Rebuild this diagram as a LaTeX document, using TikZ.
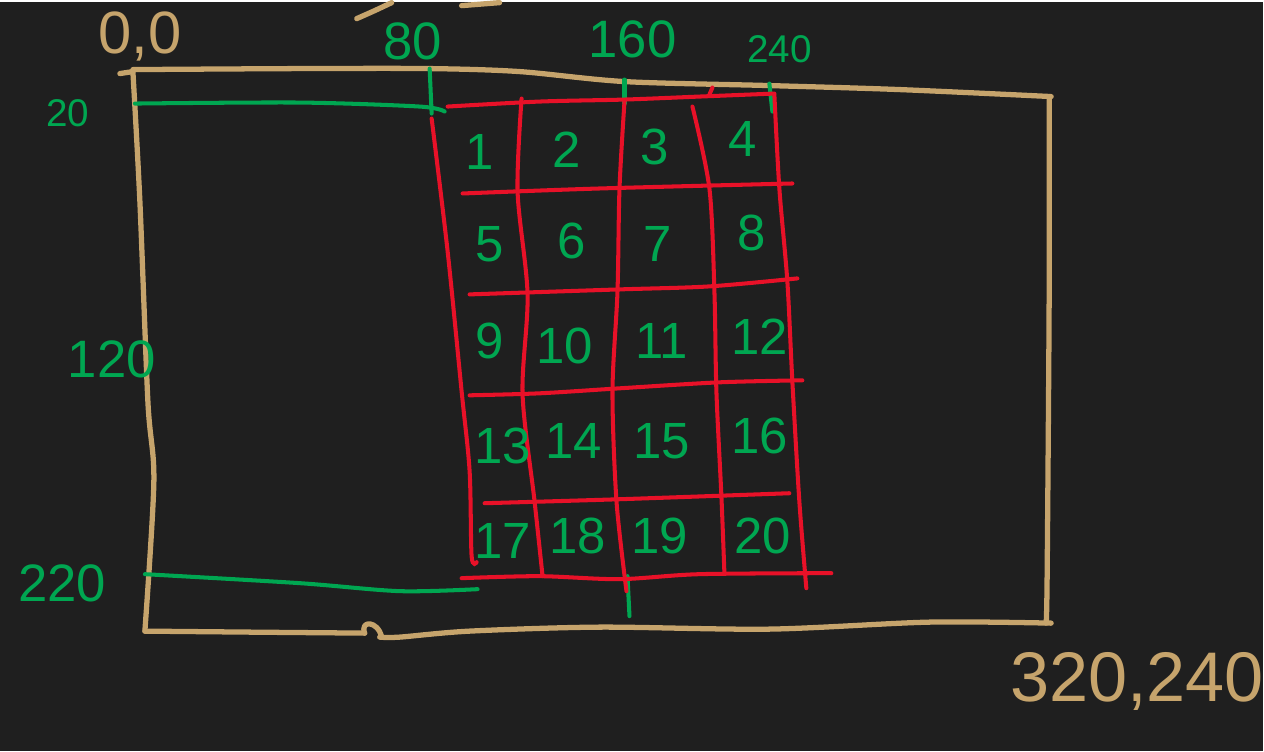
\documentclass[tikz,border=0pt]{standalone}
\usepackage{fontspec}
\setmainfont{Liberation Sans}
\usetikzlibrary{positioning}
\definecolor{bgdark}{RGB}{31,31,31}
\definecolor{pentan}{RGB}{198,164,108}
\definecolor{pengreen}{RGB}{0,166,81}
\definecolor{penred}{RGB}{232,17,40}
\tikzset{tanline/.style={draw=pentan, line width=3pt, line cap=round, line join=round}}
\tikzset{greenline/.style={draw=pengreen, line width=2.3pt, line cap=round}}
\tikzset{redline/.style={draw=penred, line width=2.3pt, line cap=round}}
\tikzset{cellnum/.style={text=pengreen, inner sep=0pt, font=\fontsize{29}{31}\selectfont}}
\tikzset{ticklabel/.style={text=pengreen, inner sep=0pt, font=\fontsize{30}{32}\selectfont}}
\tikzset{cornerlabel/.style={text=pentan, inner sep=0pt, font=\fontsize{34}{36}\selectfont}}

\begin{document}
\begin{tikzpicture}[x=0.2mm, y=-0.2mm]
      \fill[bgdark] (0, 0) rectangle (1264, 750); % page
      % screen outline
      \draw[tanline] plot[smooth] coordinates {(133, 68) (300, 67) (430, 67) (520, 70) (625, 80) (770, 84) (900, 88) (1052, 95)};
      \draw[tanline] plot[smooth] coordinates {(1050, 95) (1050, 300) (1048, 575) (1047, 622)};
      \draw[tanline] plot[smooth] coordinates {(1052, 622) (930, 621) (770, 628) (600, 626) (470, 630) (400, 636) (380, 636)};
      \draw[tanline] plot[smooth] coordinates {(145, 630) (250, 631) (365, 632)};
      \draw[tanline] (365, 632) .. controls (360, 619) and (378, 619) .. (382, 636);
      \draw[tanline] plot[smooth] coordinates {(133, 70) (140, 200) (148, 400) (154, 480) (145, 630)};
      \draw[tanline] (120, 72) -- (133, 70);
      \draw[tanline] plot[smooth] coordinates {(357, 17) (375, 9) (392, 1)};
      \draw[tanline] (462, 4) -- (500, 1);
      % margins
      \draw[greenline] plot[smooth] coordinates {(135, 102) (300, 101) (420, 105) (445, 110)};
      \draw[greenline] plot[smooth] coordinates {(145, 573) (300, 582) (400, 590) (478, 588)};
      \draw[greenline] (430, 67) -- (432, 112);
      \draw[greenline] (625, 78) -- (625, 102);
      \draw[greenline] (770, 82) -- (773, 110);
      \draw[greenline] (628, 575) -- (630, 615);
      % grid rows
      \draw[redline] plot[smooth] coordinates {(448, 105) (540, 100) (625, 98) (700, 95) (775, 92)};
      \draw[redline] plot[smooth] coordinates {(463, 192) (600, 187) (793, 182)};
      \draw[redline] plot[smooth] coordinates {(470, 293) (620, 288) (710, 285) (798, 277)};
      \draw[redline] plot[smooth] coordinates {(470, 394) (540, 392) (620, 387) (720, 381) (803, 379)};
      \draw[redline] plot[smooth] coordinates {(485, 502) (620, 498) (790, 492)};
      \draw[redline] plot[smooth] coordinates {(462, 577) (540, 575) (620, 578) (700, 573) (832, 572)};
      % grid columns
      \draw[redline] plot[smooth] coordinates {(432, 117) (448, 250) (462, 390) (470, 470) (472, 555) (477, 561)};
      \draw[redline] plot[smooth] coordinates {(522, 97) (518, 190) (528, 293) (523, 393) (535, 500) (543, 575)};
      \draw[redline] plot[smooth] coordinates {(625, 100) (620, 187) (618, 290) (613, 390) (617, 500) (627, 590)};
      \draw[redline] plot[smooth] coordinates {(693, 105) (710, 187) (715, 290) (717, 390) (722, 495) (725, 572)};
      \draw[redline] plot[smooth] coordinates {(775, 93) (780, 187) (788, 280) (793, 380) (800, 500) (807, 587)};
      \draw[redline] (710, 93) -- (713, 86);
      % cell numbers
      \foreach \n/\cx/\cy in {1/480/150, 2/567/148, 3/655/145, 4/743/137,
          5/490/243, 6/572/240, 7/658/243, 8/752/232,
          9/490/340, 10/565/345, 11/662/340, 12/760/335,
          13/503/445, 14/574/440, 15/662/440, 16/760/435,
          17/503/540, 18/578/535, 19/660/535, 20/763/535}
        \node[cellnum] (c\n) at (\cx, \cy) {\n};
      % coordinates
      \node[cornerlabel] (origin) at (140, 35) {0,0};
      \node[cornerlabel, font=\fontsize{40}{42}\selectfont] (far) at (1138, 680) {320,240};
      \node[ticklabel] (x80) at (413, 40) {80};
      \node[ticklabel] (x160) at (633, 38) {160};
      \node[ticklabel, font=\fontsize{22}{24}\selectfont] (x240) at (780, 48) {240};
      \node[ticklabel, font=\fontsize{22}{24}\selectfont] (y20) at (68, 112) {20};
      \node[ticklabel] (y120) at (112, 358) {120};
      \node[ticklabel] (y220) at (62, 582) {220};
\end{tikzpicture}
\end{document}
